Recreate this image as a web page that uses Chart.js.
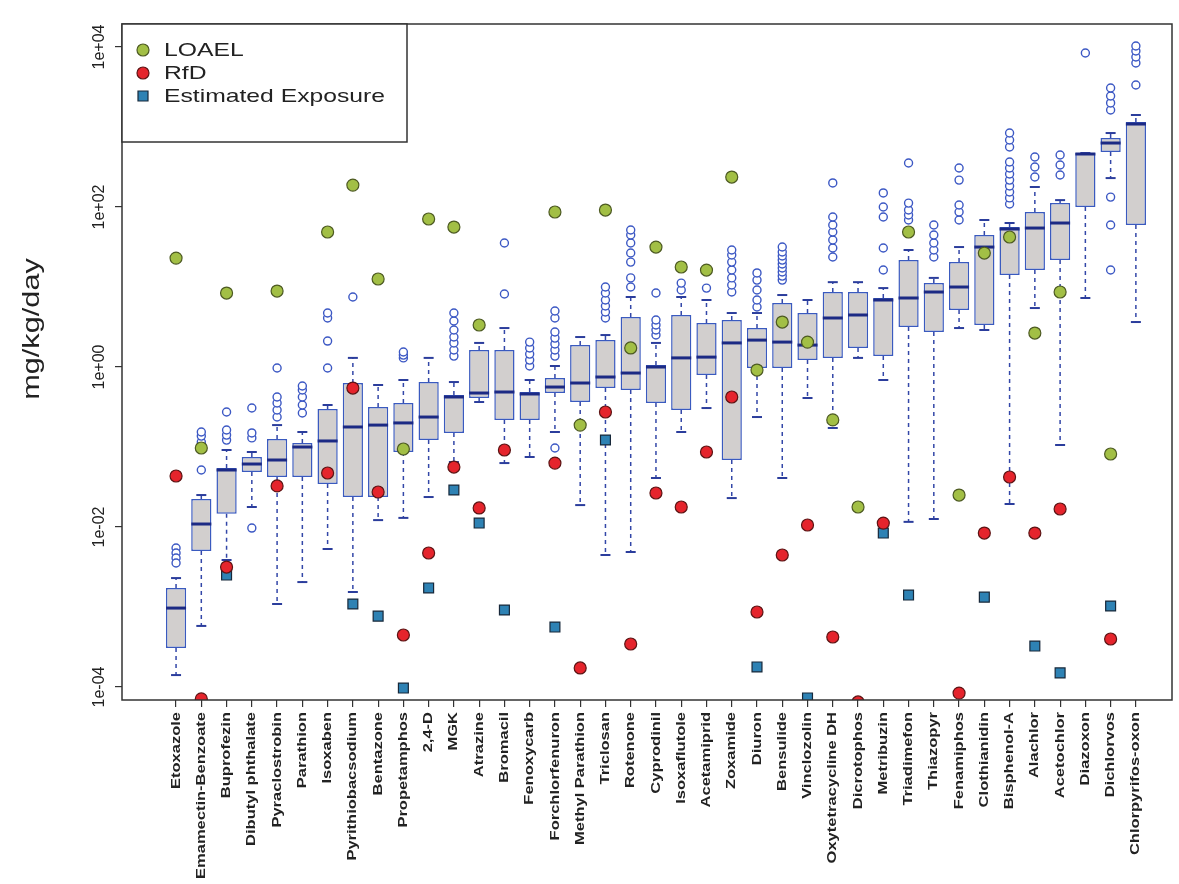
<!DOCTYPE html>
<html>
<head>
<meta charset="utf-8">
<script src="https://cdn.jsdelivr.net/npm/chart.js@4.4.1/dist/chart.umd.min.js"></script>
<style>
  html, body { margin: 0; background: #fff; }
  #wrap { width: 1179px; height: 884px; }
</style>
</head>
<body>
<div id="wrap"><canvas id="c" width="1179" height="884"></canvas></div>
<script>
// chemicals, left to right
const chemicals = ['Etoxazole', 'Emamectin-Benzoate', 'Buprofezin', 'Dibutyl phthalate', 'Pyraclostrobin',
  'Parathion', 'Isoxaben', 'Pyrithiobacsodium', 'Bentazone', 'Propetamphos', '2,4-D', 'MGK', 'Atrazine',
  'Bromacil', 'Fenoxycarb', 'Forchlorfenuron', 'Methyl Parathion', 'Triclosan', 'Rotenone', 'Cyprodinil',
  'Isoxaflutole', 'Acetamiprid', 'Zoxamide', 'Diuron', 'Bensulide', 'Vinclozolin', 'Oxytetracycline DH',
  'Dicrotophos', 'Metribuzin', 'Triadimefon', 'Thiazopyr', 'Fenamiphos', 'Clothianidin', 'Bisphenol-A',
  'Alachlor', 'Acetochlor', 'Diazoxon', 'Dichlorvos', 'Chlorpyrifos-oxon']

// box statistics (mg/kg/day)
const whiskerLow = [1.41e-4, 5.8e-4, 3.87e-3, 0.0178, 1.09e-3, 2.05e-3, 5.31e-3, 1.54e-3, 0.0122, 0.013,
  0.0237, 0.065, 0.365, 0.063, 0.075, 0.154, 0.0188, 4.47e-3, 4.87e-3, 0.041,
  0.154, 0.307, 0.023, 0.237, 0.041, 0.41, 0.173, 1.30, 0.688, 0.0116,
  0.0126, 3.07, 2.9, 0.0194, 5.46, 0.106, 7.29, 230, 3.65]
const boxQ1 = [3.07e-4, 5.0e-3, 0.0146, 0.0487, 0.0422, 0.0422, 0.0345, 0.0237, 0.0237, 0.0866,
  0.122, 0.15, 0.41, 0.218, 0.218, 0.473, 0.365, 0.546, 0.516, 0.355,
  0.29, 0.794, 0.0688, 0.972, 0.972, 1.22, 1.30, 1.73, 1.37, 3.16,
  2.74, 5.16, 3.35, 14.1, 16.3, 21.7, 100, 487, 59.6]
const boxMedian = [9.7e-4, 0.0109, 0.0516, 0.0613, 0.0688, 0.1, 0.119, 0.178, 0.188, 0.2,
  0.237, 0.422, 0.473, 0.487, 0.46, 0.562, 0.631, 0.75, 0.841, 1.0,
  1.30, 1.33, 2.0, 2.17, 2.05, 1.88, 4.1, 4.47, 6.88, 7.29,
  8.66, 10, 31.6, 53.1, 54.6, 63.1, 460, 631, 1090]
const boxQ3 = [1.73e-3, 0.0224, 0.0547, 0.075, 0.126, 0.112, 0.299, 0.631, 0.316, 0.355,
  0.649, 0.447, 1.63, 1.63, 0.487, 0.729, 1.88, 2.17, 4.22, 1.06,
  4.47, 3.55, 3.87, 3.07, 6.31, 4.73, 8.66, 8.66, 7.29, 21.7,
  11.2, 20.5, 44.7, 56.2, 86.6, 112, 473, 729, 1155]
const whiskerHigh = [2.3e-3, 0.0251, 0.0917, 0.0866, 0.188, 0.154, 0.335, 1.30, 0.596, 0.688,
  1.30, 0.649, 2.0, 3.07, 0.688, 1.03, 2.37, 2.51, 7.5, 2.0,
  7.5, 6.88, 4.73, 4.73, 7.94, 6.88, 11.5, 11.5, 9.7, 29.0,
  13.0, 31.6, 68.8, 63.1, 178, 122, 473, 841, 1413]
const outliers = [
  [5.46e-3, 4.73e-3, 4.1e-3, 3.55e-3], [0.0516, 0.1155, 0.137, 0.154], [0.122, 0.141, 0.163, 0.274],
  [0.13, 0.15, 0.307, 9.7e-3], [0.237, 0.29, 0.355, 0.422, 0.972], [0.266, 0.335, 0.422, 0.516, 0.579],
  [0.972, 2.11, 4.1, 4.73], [7.5], [], [1.30, 1.41, 1.54], [], [1.37, 1.63, 2.0, 2.37, 2.9, 3.76, 4.73],
  [], [8.17, 35.5], [1.03, 1.22, 1.45, 1.73, 2.05], [0.0972, 1.37, 1.63, 1.94, 2.3, 2.74, 4.1, 5.01],
  [], [4.1, 4.87, 5.79, 6.88, 8.41, 10], [10, 13.0, 20.5, 26.6, 35.5, 44.7, 51.6],
  [2.51, 2.9, 3.35, 3.87, 8.41], [9.17, 11.2], [9.7], [8.66, 10.6, 13.0, 16.3, 20.5, 25.1, 29.0],
  [5.62, 6.88, 9.17, 12.2, 15.0], [12.2, 13.7, 15.4, 17.3, 19.4, 21.7, 24.4, 27.4, 31.6], [],
  [23.7, 30.7, 38.7, 48.7, 59.6, 75, 200], [], [16.3, 30.7, 75, 100, 150], [68.8, 79.4, 91.7, 112, 355],
  [23.7, 29.0, 35.5, 44.7, 59.6], [68.8, 86.6, 106, 217, 307], [],
  [109, 130, 154, 183, 217, 259, 307, 365, 562, 688, 841], [237, 316, 422], [251, 335, 447], [8410],
  [1630, 2000, 2440, 3070, 133, 59.6, 16.3], [3350, 6310, 7500, 8910, 10300]
]

// reference values
const loael = [23.0, 0.0972, 8.41, null, 8.91, null, 48.7, 188, 12.6, 0.0944,
  70.8, 56.2, 3.35, null, null, 86.6, 0.188, 91.7, 1.73, 31.6,
  17.8, 16.3, 237, 0.917, 3.65, 2.05, 0.218, 0.0178, null, 48.7,
  null, 0.0251, 26.6, 42.2, 2.66, 8.66, null, 0.0818, null]
const rfd = [0.0434, 7.1e-5, 3.16e-3, null, 0.0326, null, 0.0473, 0.546, 0.0274, 4.47e-4,
  4.73e-3, 0.0562, 0.0173, 0.0917, null, 0.063, 1.73e-4, 0.274, 3.45e-4, 0.0266,
  0.0178, 0.0866, 0.422, 8.66e-4, 4.47e-3, 0.0106, 4.22e-4, 6.5e-5, 0.0112, null,
  null, 8.4e-5, 8.41e-3, 0.0422, 8.41e-3, 0.0168, null, 3.98e-4, null]
const exposure = [null, null, 2.51e-3, null, null, null, null, 1.09e-3, 7.7e-4, 9.7e-5,
  1.73e-3, 0.029, 0.0112, 9.17e-4, null, 5.62e-4, null, 0.1224, null, null,
  null, null, null, 1.78e-4, null, 7.3e-5, null, null, 8.41e-3, 1.41e-3,
  null, null, 1.33e-3, null, 3.25e-4, 1.5e-4, null, 1.03e-3, null]

const yTicks = [1e-4, 1e-2, 1, 1e2, 1e4]
const legendItems = [
  { label: 'LOAEL', style: 'circle', fill: '#a2bf45', edge: '#4d5a22' },
  { label: 'RfD', style: 'circle', fill: '#e5242c', edge: '#5c1414' },
  { label: 'Estimated Exposure', style: 'rect', fill: '#2e82b4', edge: '#17283a' }
]

const FONT = '"Liberation Sans", Arial, sans-serif'
const rLabel = v => {
  const e = Math.round(Math.log10(v))
  return '1e' + (e < 0 ? '-' : '+') + String(Math.abs(e)).padStart(2, '0')
}
const pts = arr => arr.map((v, i) => ({ x: i, y: v })).filter(p => p.y !== null)

const whiskerPath = []
chemicals.forEach((c, i) => {
  whiskerPath.push({ x: i, y: boxQ3[i] }, { x: i, y: whiskerHigh[i] }, { x: i, y: null })
  whiskerPath.push({ x: i, y: boxQ1[i] }, { x: i, y: whiskerLow[i] }, { x: i, y: null })
})
const outlierPts = []
outliers.forEach((list, i) => list.forEach(v => outlierPts.push({ x: i, y: v })))

// R style frame, tick labels, axis title and legend
const rDecor = {
  id: 'rDecor',
  afterDraw (chart) {
    const { ctx, chartArea: a, scales: { x, y } } = chart
    ctx.save()
    ctx.strokeStyle = '#333'
    ctx.lineWidth = 1.5
    ctx.strokeRect(a.left, a.top, a.right - a.left, a.bottom - a.top)

    ctx.fillStyle = '#222'
    ctx.font = '16px ' + FONT
    ctx.textAlign = 'center'
    ctx.textBaseline = 'middle'
    yTicks.forEach(v => {
      ctx.save()
      ctx.translate(a.left - 22, y.getPixelForValue(v))
      ctx.rotate(-Math.PI / 2)
      ctx.fillText(rLabel(v), 0, 0)
      ctx.restore()
    })

    ctx.save()
    ctx.font = '24px ' + FONT
    ctx.translate(32, 329)
    ctx.rotate(-Math.PI / 2)
    ctx.scale(1.28, 1)
    ctx.fillText('mg/kg/day', 0, 0)
    ctx.restore()

    ctx.font = 'bold 13px ' + FONT
    ctx.textAlign = 'right'
    chemicals.forEach((c, i) => {
      ctx.save()
      ctx.translate(x.getPixelForValue(i), a.bottom + 12)
      ctx.rotate(-Math.PI / 2)
      ctx.scale(1.27, 1)
      ctx.fillText(c, 0, 0)
      ctx.restore()
    })

    // legend box
    ctx.fillStyle = '#fff'
    ctx.fillRect(a.left, a.top, 285, 118)
    ctx.strokeRect(a.left, a.top, 285, 118)
    ctx.textAlign = 'left'
    ctx.font = '19px ' + FONT
    legendItems.forEach((it, k) => {
      const ly = a.top + 26 + k * 23
      const lx = a.left + 21
      ctx.fillStyle = it.fill
      ctx.strokeStyle = it.edge
      ctx.lineWidth = 1.2
      ctx.beginPath()
      if (it.style === 'circle') ctx.arc(lx, ly, 6, 0, Math.PI * 2)
      else ctx.rect(lx - 5, ly - 5, 10, 10)
      ctx.fill()
      ctx.stroke()
      ctx.save()
      ctx.fillStyle = '#222'
      ctx.translate(lx + 21, ly + 1)
      ctx.scale(1.3, 1)
      ctx.fillText(it.label, 0, 0)
      ctx.restore()
    })
    ctx.restore()
  }
}

new Chart(document.getElementById('c'), {
  type: 'bar',
  data: {
    datasets: [
      {
        type: 'line', label: 'RfD', data: pts(rfd), showLine: false, order: 0,
        pointStyle: 'circle', pointRadius: 6, pointBorderWidth: 1.2,
        pointBackgroundColor: '#e5242c', pointBorderColor: '#5c1414'
      },
      {
        type: 'line', label: 'LOAEL', data: pts(loael), showLine: false, order: 1,
        pointStyle: 'circle', pointRadius: 6, pointBorderWidth: 1.2,
        pointBackgroundColor: '#a2bf45', pointBorderColor: '#4d5a22'
      },
      {
        type: 'line', label: 'Estimated Exposure', data: pts(exposure), showLine: false, order: 2,
        pointStyle: 'rect', pointRadius: 7, pointBorderWidth: 1.2,
        pointBackgroundColor: '#2e82b4', pointBorderColor: '#17283a'
      },
      {
        type: 'line', label: 'median', data: pts(boxMedian), showLine: false, order: 3,
        pointStyle: 'line', pointRadius: 10, pointBorderWidth: 3, pointBorderColor: '#1c2a84'
      },
      {
        type: 'line', label: 'outliers', data: outlierPts, showLine: false, order: 4,
        pointStyle: 'circle', pointRadius: 4, pointBorderWidth: 1.4,
        pointBackgroundColor: '#fff', pointBorderColor: '#3c58c4'
      },
      {
        type: 'line', label: 'caps', data: pts(whiskerLow).concat(pts(whiskerHigh)), showLine: false, order: 5,
        pointStyle: 'line', pointRadius: 5, pointBorderWidth: 2, pointBorderColor: '#2b3d9c'
      },
      {
        type: 'line', label: 'whiskers', data: whiskerPath, order: 6, spanGaps: false,
        borderColor: '#3347a8', borderWidth: 1.5, borderDash: [4, 4], pointRadius: 0
      },
      {
        type: 'bar', label: 'box', order: 7,
        data: chemicals.map((c, i) => ({ x: i, y: [boxQ1[i], boxQ3[i]] })),
        backgroundColor: '#d2cfce', borderColor: '#3a5abf', borderWidth: 1.5, borderSkipped: false,
        barPercentage: 0.8, categoryPercentage: 1
      }
    ]
  },
  options: {
    responsive: false,
    animation: false,
    devicePixelRatio: 1,
    events: [],
    layout: { autoPadding: false, padding: { top: 24, right: 7, left: 0, bottom: 0 } },
    plugins: { legend: { display: false }, tooltip: { enabled: false } },
    scales: {
      x: {
        type: 'linear',
        offset: false,
        min: -2.14,
        max: 39.43,
        afterBuildTicks: s => { s.ticks = chemicals.map((c, i) => ({ value: i })) },
        afterFit: s => { s.height = 184 },
        ticks: { display: false },
        grid: { offset: false, drawOnChartArea: false, drawTicks: true, tickLength: 7, color: '#333', lineWidth: 1.2 },
        border: { display: false }
      },
      y: {
        type: 'logarithmic',
        min: 6.88e-5,
        max: 1.94e4,
        afterBuildTicks: s => { s.ticks = yTicks.map(v => ({ value: v })) },
        afterFit: s => { s.width = 122 },
        ticks: { display: false },
        grid: { drawOnChartArea: false, drawTicks: true, tickLength: 7, color: '#333', lineWidth: 1.2 },
        border: { display: false }
      }
    }
  },
  plugins: [rDecor]
})
</script>
</body>
</html>
